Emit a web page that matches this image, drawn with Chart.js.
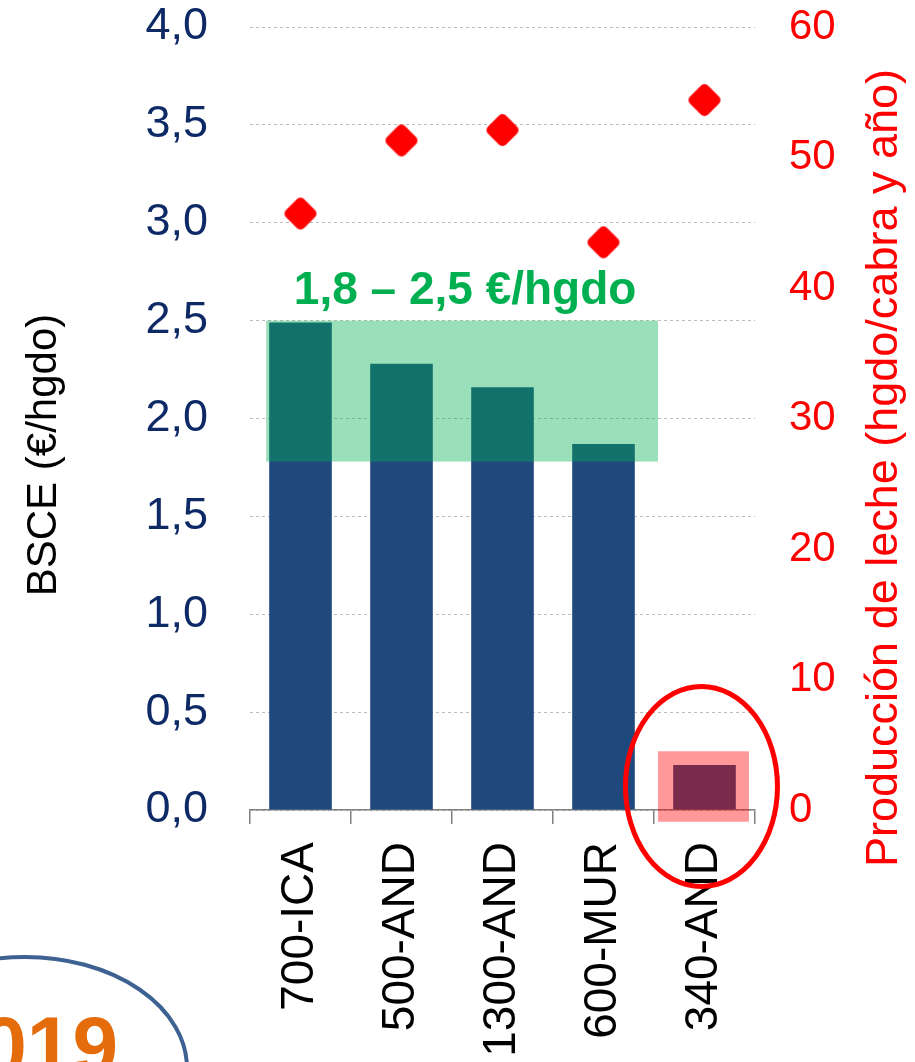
<!DOCTYPE html>
<html>
<head>
<meta charset="utf-8">
<script src="https://cdn.jsdelivr.net/npm/chart.js@4.4.1/dist/chart.umd.min.js"></script>
<style>
html, body { margin: 0; padding: 0; background: #fff; }
#wrap { width: 915px; height: 1062px; position: relative; overflow: hidden; }
</style>
</head>
<body>
<div id="wrap"><canvas id="myChart" width="915" height="1062"></canvas></div>
<script>
// explotaciones
const categories = ['700-ICA', '500-AND', '1300-AND', '600-MUR', '340-AND'];
// BSCE (€/hgdo) - eje izquierdo
const bsce = [2.49, 2.28, 2.16, 1.87, 0.23];
// producción de leche (hgdo/cabra y año) - eje derecho
const produccion = [45.7, 51.3, 52.1, 43.5, 54.4];
// escalas
const leftMax = 4, leftStep = 0.5;
const rightMax = 60, rightStep = 10;
// franja de referencia
const rangeLow = 1.78, rangeHigh = 2.5;
const rangeLabel = '1,8 – 2,5 €/hgdo';

Chart.defaults.font.family = '"Liberation Sans", Arial, sans-serif';

//rombo redondeado para los puntos
function diamond(size, color) {
    const c = document.createElement('canvas');
    c.width = c.height = size;
    const g = c.getContext('2d');
    const m = size / 2, r = 11;
    g.beginPath();
    g.moveTo(m, m - r);
    g.lineTo(m + r, m);
    g.lineTo(m, m + r);
    g.lineTo(m - r, m);
    g.closePath();
    g.fillStyle = g.strokeStyle = color;
    g.lineWidth = 10;
    g.lineJoin = 'round';
    g.fill();
    g.stroke();
    return c;
}

//el eje vertical no debe reservar espacio extra arriba/abajo
function fixVertical(width) {
    return s => {
        s.width = width;
        s.paddingTop = 0;
        s.paddingBottom = 0;
    };
}

//franjas, elipses y textos
const extras = {
    id: 'extras',
    afterDatasetsDraw(chart) {
        const {ctx, scales: {x, y}} = chart;
        const x0 = x.getPixelForValue(0);
        const step = x.getPixelForValue(1) - x0;
        const px = v => x0 + v * step;
        ctx.save();

        // franja verde
        ctx.fillStyle = 'rgba(0,176,80,0.4)';
        ctx.fillRect(px(-0.34), y.getPixelForValue(rangeHigh), px(3.54) - px(-0.34),
            y.getPixelForValue(rangeLow) - y.getPixelForValue(rangeHigh));

        // caja roja
        ctx.fillStyle = 'rgba(255,0,0,0.4)';
        ctx.fillRect(px(3.54), y.getPixelForValue(0.3), px(4.44) - px(3.54),
            y.getPixelForValue(-0.06) - y.getPixelForValue(0.3));

        // elipse roja
        ctx.strokeStyle = '#ff0000';
        ctx.lineWidth = 5;
        ctx.beginPath();
        ctx.ellipse(px(3.97), y.getPixelForValue(0.12), 76, 100, 0, 0, Math.PI * 2);
        ctx.stroke();

        // etiqueta de la franja
        ctx.fillStyle = '#00b050';
        ctx.font = 'bold 46px "Liberation Sans", Arial, sans-serif';
        ctx.textAlign = 'center';
        ctx.textBaseline = 'alphabetic';
        ctx.fillText(rangeLabel, px(1.63), y.getPixelForValue(rangeHigh) - 17);

        // títulos de ejes
        ctx.save();
        ctx.translate(44, 455);
        ctx.rotate(-Math.PI / 2);
        ctx.textBaseline = 'middle';
        ctx.fillStyle = '#000';
        ctx.font = '42px "Liberation Sans", Arial, sans-serif';
        ctx.fillText('BSCE (€/hgdo)', 0, 0);
        ctx.restore();

        ctx.save();
        ctx.translate(885, 468);
        ctx.rotate(-Math.PI / 2);
        ctx.textBaseline = 'middle';
        ctx.fillStyle = '#ff0000';
        ctx.font = '45px "Liberation Sans", Arial, sans-serif';
        ctx.fillText('Producción de leche (hgdo/cabra y año)', 0, 0);
        ctx.restore();

        // año (esquina inferior)
        ctx.strokeStyle = '#3d6291';
        ctx.lineWidth = 4;
        ctx.beginPath();
        ctx.ellipse(25, 1068, 162, 111, 0, 0, Math.PI * 2);
        ctx.stroke();
        ctx.fillStyle = '#e46c0a';
        ctx.font = 'bold 82px "Liberation Sans", Arial, sans-serif';
        ctx.textAlign = 'right';
        ctx.textBaseline = 'alphabetic';
        ctx.fillText('2019', 118, 1074);

        ctx.restore();
    }
};

const elem = document.getElementById('myChart');
const chart = new Chart(elem, {
    type: 'bar',
    data: {
        labels: categories,
        datasets: [{
            type: 'line',
            label: 'Producción de leche',
            data: produccion,
            yAxisID: 'y1',
            showLine: false,
            pointStyle: diamond(36, '#ff0000'),
            pointRadius: 16,
            order: 0
        }, {
            type: 'bar',
            label: 'BSCE',
            data: bsce,
            yAxisID: 'y',
            backgroundColor: '#1f497d',
            barPercentage: 0.62,
            categoryPercentage: 1,
            order: 1
        }]
    },
    options: {
        responsive: false,
        animation: false,
        events: [],
        layout: { padding: { top: 27 } },
        plugins: {
            legend: { display: false },
            tooltip: { enabled: false }
        },
        scales: {
            x: {
                ticks: {
                    color: '#000',
                    font: { size: 46 },
                    minRotation: 90,
                    maxRotation: 90,
                    autoSkip: false,
                    padding: 18
                },
                grid: {
                    drawOnChartArea: false,
                    drawTicks: true,
                    tickLength: 14,
                    color: '#808080',
                    lineWidth: 1.5
                },
                border: { color: '#808080', width: 1.5 },
                afterFit: s => { s.height = 252; }
            },
            y: {
                position: 'left',
                min: 0,
                max: leftMax,
                ticks: {
                    stepSize: leftStep,
                    color: '#0e2a66',
                    font: { size: 45 },
                    padding: 42,
                    callback: v => v.toFixed(1).replace('.', ',')
                },
                grid: { color: '#bcbcbc', lineWidth: 1, drawTicks: false },
                border: { display: false, dash: [3, 3] },
                afterFit: fixVertical(250)
            },
            y1: {
                position: 'right',
                min: 0,
                max: rightMax,
                ticks: {
                    stepSize: rightStep,
                    color: '#ff0000',
                    font: { size: 42 },
                    padding: 26
                },
                grid: { display: false },
                border: { display: false },
                afterFit: fixVertical(160)
            }
        }
    },
    plugins: [extras]
});
</script>
</body>
</html>
